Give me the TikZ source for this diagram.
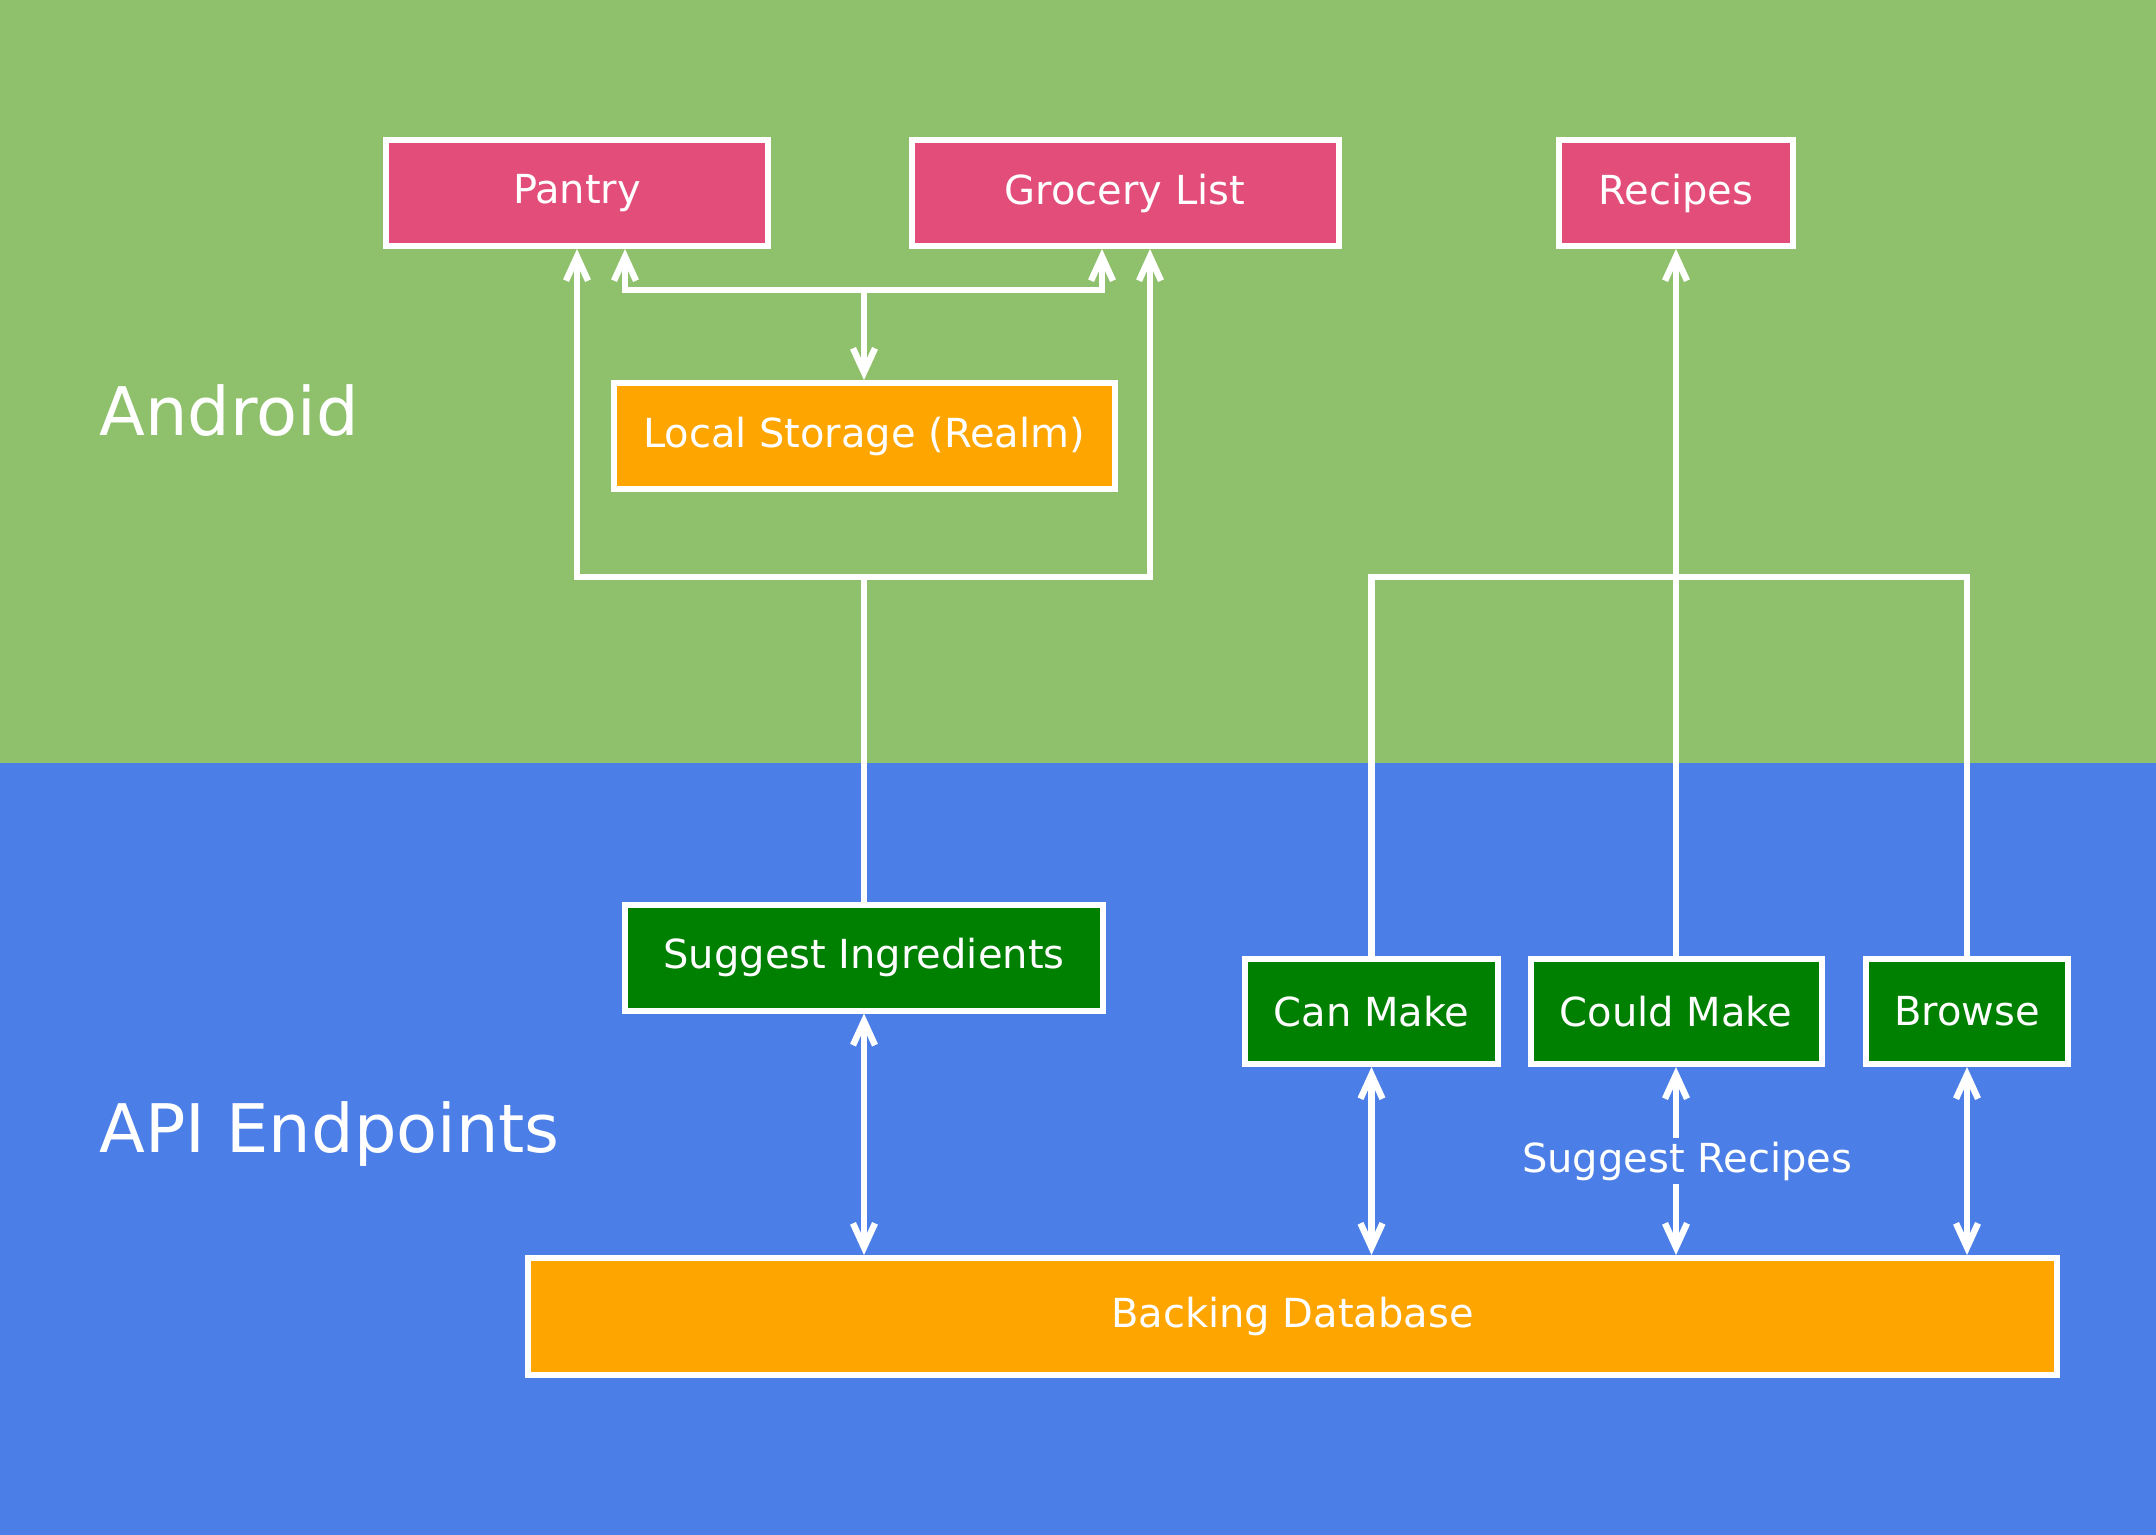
\documentclass[tikz,border=0pt]{standalone}
\usepackage{fontspec}
\setmainfont{DejaVu Sans}
\usetikzlibrary{arrows.meta,calc}
\definecolor{andgreen}{RGB}{143,193,108}
\definecolor{apiblue}{RGB}{75,126,230}
\definecolor{boxpink}{RGB}{227,77,122}
\definecolor{boxorange}{RGB}{255,165,0}
\definecolor{boxgreen}{RGB}{0,128,0}
\begin{document}
\begin{tikzpicture}[x=0.5pt,y=-0.5pt,
  box/.style={draw=white,line width=3pt,text=white,font=\fontsize{20}{24}\selectfont,inner sep=0pt,minimum height=53pt},
  link/.style={draw=white,line width=3.2pt},
  >={Straight Barb[length=12pt,width=11pt]},
  zone/.style={anchor=base west,text=white,font=\fontsize{33.5}{40}\selectfont,inner sep=0pt},
  lbl/.style={anchor=base,text=white,fill=apiblue,font=\fontsize{20}{24}\selectfont,inner sep=2pt}
]
\useasboundingbox (0,0) rectangle (2156,1535);
\fill[andgreen] (0,0) rectangle (2156,763);
\fill[apiblue] (0,763) rectangle (2156,1535);

\node[zone] (android) at (99,436) {Android};
\node[zone] (api) at (99,1152) {API Endpoints};

\node[box,fill=boxpink,minimum width=191pt] (pantry) at (577,193) {Pantry};
\node[box,fill=boxpink,minimum width=213.5pt] (grocery) at (1125,193) {Grocery List};
\node[box,fill=boxpink,minimum width=117pt] (recipes) at (1676,193) {Recipes};
\node[box,fill=boxorange,minimum width=250.5pt] (local) at (864,436) {Local Storage (Realm)};
\node[box,fill=boxgreen,minimum width=239pt] (sugging) at (864,957.5) {Suggest Ingredients};
\node[box,fill=boxgreen,minimum width=126.5pt,minimum height=52.5pt] (canmake) at (1371.5,1011.5) {Can Make};
\node[box,fill=boxgreen,minimum width=145.5pt,minimum height=52.5pt] (couldmake) at (1676,1011.5) {Could Make};
\node[box,fill=boxgreen,minimum width=101pt,minimum height=52.5pt] (browse) at (1967,1011.5) {Browse};
\node[box,fill=boxorange,minimum width=764.5pt,minimum height=58.5pt] (db) at (1292.5,1316.5) {Backing Database};

\coordinate (jtop) at (864,290);
\coordinate (jmid) at (864,577);
\coordinate (jright) at (1676,577);

\draw[link,->] (jtop) -- (local.north);
\draw[link,->] (jtop) -| ([xshift=24pt]pantry.south);
\draw[link,->] (jtop) -| ([xshift=-11.5pt]grocery.south);
\draw[link] (sugging.north) -- (jmid);
\draw[link,->] (jmid) -| (pantry.south);
\draw[link,->] (jmid) -| ([xshift=12.5pt]grocery.south);
\draw[link] (canmake.north) |- (jright) -| (browse.north);
\draw[link,->] (couldmake.north) -- (recipes.south);

\draw[link,<->] (sugging.south) -- (sugging.south |- db.north);
\draw[link,<->] (canmake.south) -- (canmake.south |- db.north);
\draw[link,<->] (couldmake.south) -- (couldmake.south |- db.north);
\draw[link,<->] (browse.south) -- (browse.south |- db.north);
\node[lbl] (sr) at (1687,1172) {Suggest Recipes};
\end{tikzpicture}
\end{document}
